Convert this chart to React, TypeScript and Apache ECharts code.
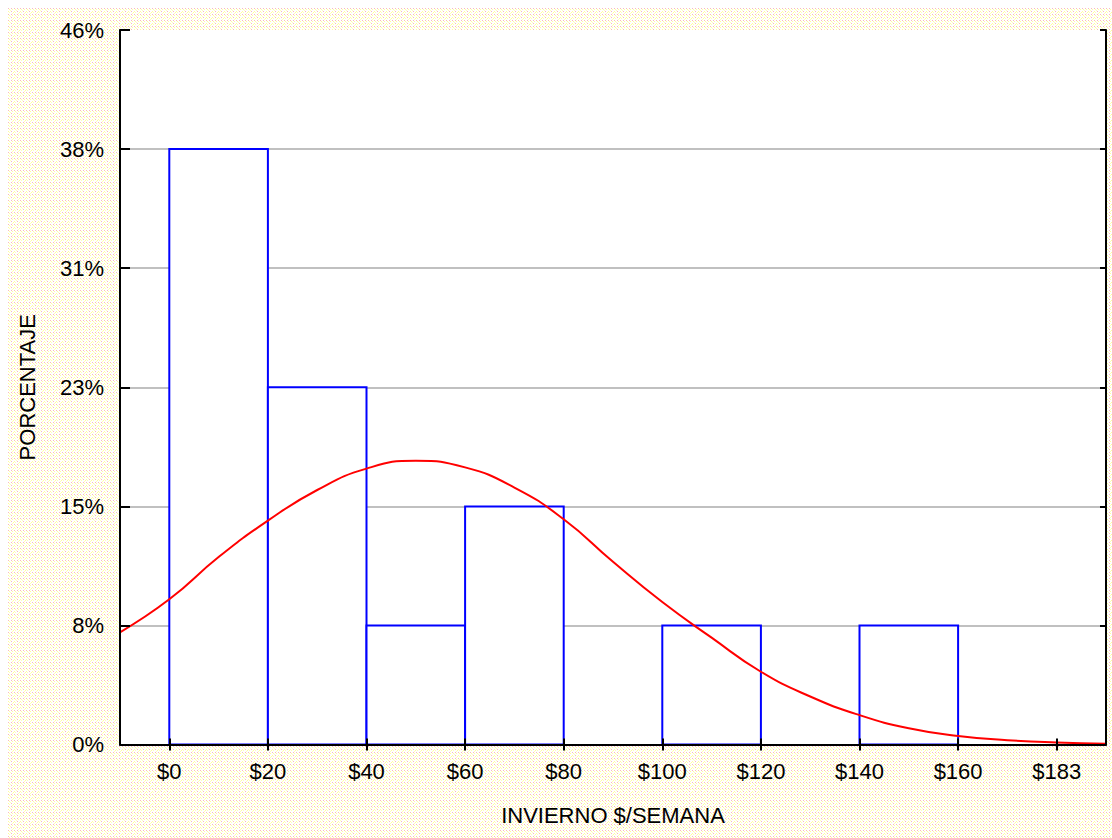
import React, { useEffect, useRef } from "react";
import * as echarts from "echarts";

// Histogram bins (INVIERNO $/SEMANA) and their percentages
const binStarts = [0, 20, 40, 60, 80, 100, 120, 140];
const binEnds = [20, 40, 60, 80, 100, 120, 140, 160];
const binPercent = [38.46, 23.08, 7.69, 15.38, 0, 7.69, 0, 7.69];

// Fitted normal curve
const curveX = [-10, 0, 10, 20, 30, 40, 50, 60, 70, 80, 90, 100, 110, 120, 130, 140, 150, 160, 170, 180, 190];
const curveY = [7.25, 9.38, 12.11, 14.46, 16.44, 17.82, 18.33, 17.9, 16.6, 14.55, 11.8, 9.2, 6.9, 4.7, 3.1, 1.9, 1.05, 0.55, 0.28, 0.13, 0.05];

// Axis ticks
const xTickValues = [0, 20, 40, 60, 80, 100, 120, 140, 160, 180];
const xTickLabels = ["$0", "$20", "$40", "$60", "$80", "$100", "$120", "$140", "$160", "$183"];
const yInterval = 7.6923;
const yMax = 46.1538;

const FONT = '"Liberation Sans", Arial, sans-serif';

const bgTile =
  "data:image/svg+xml;utf8," +
  encodeURIComponent(
    '<svg xmlns="http://www.w3.org/2000/svg" width="6" height="6" shape-rendering="crispEdges">' +
      '<rect width="6" height="6" fill="#ffffff"/>' +
      '<rect x="0" y="0" width="1" height="1" fill="#f8bcbc"/>' +
      '<rect x="3" y="0" width="1" height="1" fill="#f8bcbc"/>' +
      '<rect x="1" y="1" width="1" height="1" fill="#ffff9c"/>' +
      '<rect x="4" y="1" width="1" height="1" fill="#ffff9c"/>' +
      '<rect x="0" y="3" width="1" height="1" fill="#ffff9c"/>' +
      '<rect x="3" y="3" width="1" height="1" fill="#f8bcbc"/>' +
      '<rect x="2" y="2" width="1" height="1" fill="#ffffb8"/>' +
      '<rect x="5" y="4" width="1" height="1" fill="#ffff9c"/>' +
      '<rect x="1" y="4" width="1" height="1" fill="#ffffb8"/>' +
      '<rect x="4" y="5" width="1" height="1" fill="#ffffb8"/>' +
      "</svg>"
  );

export default function App() {
  const ref = useRef<HTMLDivElement>(null);

  useEffect(() => {
    if (!ref.current) return;
    const chart = echarts.init(ref.current, undefined, { renderer: "svg" });

    const histData = binStarts.map((s, i) => [s, binEnds[i], binPercent[i]]);
    const lineData = curveX.map((x, i) => [x, curveY[i]]);

    const labelFmt = (v: number) => {
      const idx = xTickValues.findIndex((t) => Math.abs(t - v) < 1e-6);
      return idx >= 0 ? xTickLabels[idx] : "";
    };

    chart.setOption({
      animation: false,
      backgroundColor: "transparent",
      textStyle: { fontFamily: FONT },
      grid: {
        left: 111,
        right: 6,
        top: 22,
        bottom: 93.5,
        show: true,
        backgroundColor: "#ffffff",
        borderWidth: 0,
        borderColor: "rgba(0,0,0,0)",
      },
      xAxis: [
        {
          type: "value",
          min: -10,
          max: 190,
          position: "bottom",
          z: 5,
          name: "INVIERNO $/SEMANA",
          nameLocation: "middle",
          nameGap: 60,
          nameTextStyle: { color: "#000", fontSize: 22, fontFamily: FONT },
          axisLine: { show: true, onZero: false, lineStyle: { color: "#000", width: 2 } },
          axisTick: {
            show: true,
            inside: true,
            length: 6,
            customValues: xTickValues,
            lineStyle: { color: "#000", width: 2 },
          },
          axisLabel: {
            show: true,
            customValues: xTickValues,
            formatter: labelFmt,
            color: "#000",
            fontSize: 22,
            fontFamily: FONT,
            margin: 16,
          },
          splitLine: { show: false },
        },
        {
          type: "value",
          min: -10,
          max: 190,
          position: "top",
          z: 5,
          axisLine: { show: false },
          axisTick: {
            show: true,
            inside: true,
            length: 6,
            customValues: xTickValues,
            lineStyle: { color: "#000", width: 2 },
          },
          axisLabel: { show: false },
          splitLine: { show: false },
        },
      ],
      yAxis: [
        {
          type: "value",
          min: 0,
          max: yMax,
          interval: yInterval,
          position: "left",
          z: 5,
          name: "PORCENTAJE",
          nameLocation: "middle",
          nameGap: 82,
          nameTextStyle: { color: "#000", fontSize: 22, fontFamily: FONT },
          axisLine: { show: true, onZero: false, lineStyle: { color: "#000", width: 2 } },
          axisTick: { show: true, inside: true, length: 10, lineStyle: { color: "#000", width: 2 } },
          axisLabel: {
            formatter: (v: number) => Math.round(v) + "%",
            color: "#000",
            fontSize: 22,
            fontFamily: FONT,
            margin: 16,
          },
          splitLine: { show: false },
        },
        {
          type: "value",
          min: 0,
          max: yMax,
          interval: yInterval,
          position: "right",
          z: 5,
          axisLine: { show: true, onZero: false, lineStyle: { color: "#000", width: 2 } },
          axisTick: { show: true, inside: true, length: 6, lineStyle: { color: "#000", width: 2 } },
          axisLabel: { show: false },
          splitLine: { show: false },
        },
        {
          type: "value",
          min: 0,
          max: yMax,
          interval: yInterval,
          position: "left",
          z: 0,
          axisLine: { show: false },
          axisTick: { show: false },
          axisLabel: { show: false },
          splitLine: {
            show: true,
            showMinLine: false,
            showMaxLine: false,
            lineStyle: { color: "#c0c0c0", width: 2 },
          },
        },
      ],
      series: [
        {
          type: "custom",
          xAxisIndex: 0,
          yAxisIndex: 0,
          z: 2,
          data: histData,
          renderItem: (params: any, api: any) => {
            const v = api.value(2);
            if (!v) return { type: "group", children: [] };
            const p0 = api.coord([api.value(0), v]);
            const p1 = api.coord([api.value(1), 0]);
            return {
              type: "rect",
              shape: { x: p0[0], y: p0[1], width: p1[0] - p0[0], height: p1[1] - p0[1] },
              style: { fill: "#ffffff", stroke: "#0000ff", lineWidth: 2 },
            };
          },
        },
        {
          type: "line",
          xAxisIndex: 0,
          yAxisIndex: 0,
          z: 3,
          data: lineData,
          smooth: true,
          showSymbol: false,
          symbol: "none",
          lineStyle: { color: "#ff0000", width: 2 },
        },
      ],
    });

    return () => chart.dispose();
  }, []);

  return (
    <div
      ref={ref}
      style={{
        position: "absolute",
        left: 8,
        top: 8,
        width: 1104,
        height: 830,
        backgroundColor: "#ffffff",
        backgroundImage: `url("${bgTile}")`,
        backgroundRepeat: "repeat",
        imageRendering: "pixelated",
      }}
    />
  );
}
